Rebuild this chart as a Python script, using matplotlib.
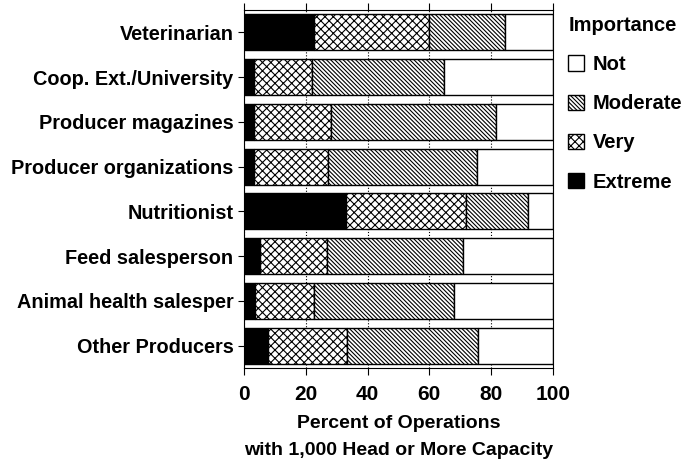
import matplotlib.pyplot as plt
import numpy as np

plt.rcParams['font.family'] = ['Liberation Sans', 'DejaVu Sans']
plt.rcParams['font.weight'] = 'bold'
plt.rcParams['axes.labelweight'] = 'bold'
plt.rcParams['hatch.linewidth'] = 0.8

sources = ['Veterinarian', 'Coop. Ext./University', 'Producer magazines',
           'Producer organizations', 'Nutritionist', 'Feed salesperson',
           'Animal health salesper', 'Other Producers']
extreme = [22.6, 3.1, 3.1, 3.1, 32.9, 5.3, 3.6, 7.7]
very = [37.3, 19.0, 25.1, 24.0, 39.1, 21.6, 19.0, 25.7]
moderate = [24.7, 42.6, 53.5, 48.2, 19.9, 44.1, 45.5, 42.2]
levels = ['Not', 'Moderate', 'Very', 'Extreme']

extreme = np.array(extreme)
very = np.array(very)
moderate = np.array(moderate)
not_imp = 100 - extreme - very - moderate

fig = plt.figure(figsize=(6.9, 4.7), dpi=100)
ax = fig.add_axes([0.3536, 0.217, 0.4478, 0.7617])

y = np.arange(len(sources))
h = 0.8
ax.xaxis.grid(True, linestyle=':', color='black', linewidth=0.8, zorder=0)
ax.set_axisbelow(True)

b_ext = ax.barh(y, extreme, h, color='black', edgecolor='black', lw=1, zorder=2)
b_very = ax.barh(y, very, h, left=extreme, color='white', edgecolor='black',
                 hatch='xxxx', lw=1, zorder=2)
b_mod = ax.barh(y, moderate, h, left=extreme + very, color='white',
                edgecolor='black', hatch='\\' * 8, lw=1, zorder=2)
b_not = ax.barh(y, not_imp, h, left=extreme + very + moderate, color='white',
                edgecolor='black', lw=1, zorder=2)

ax.set_xlim(0, 100)
ax.set_ylim(len(sources) - 0.5, -0.5)
ax.set_yticks(y)
ax.set_yticklabels(sources, fontsize=14.3)
ax.set_xticks([0, 20, 40, 60, 80, 100])
ax.tick_params(axis='x', labelsize=15, length=5, pad=7)
ax.tick_params(axis='y', length=4)
ax.tick_params(axis='x', which='both', top=True)
ax.set_xlabel('Percent of Operations\nwith 1,000 Head or More Capacity',
              fontsize=14, labelpad=8, linespacing=1.75)

fig.legend([b_not, b_mod, b_very, b_ext], levels, title='Importance',
           loc='upper left', bbox_to_anchor=(0.812, 0.983), frameon=False,
           fontsize=14.5, title_fontsize=14.5, handlelength=0.8,
           handleheight=0.8, handletextpad=0.4, labelspacing=1.0,
           alignment='left', borderaxespad=0.1, borderpad=0.3)

fig.savefig('out.png', dpi=100)
